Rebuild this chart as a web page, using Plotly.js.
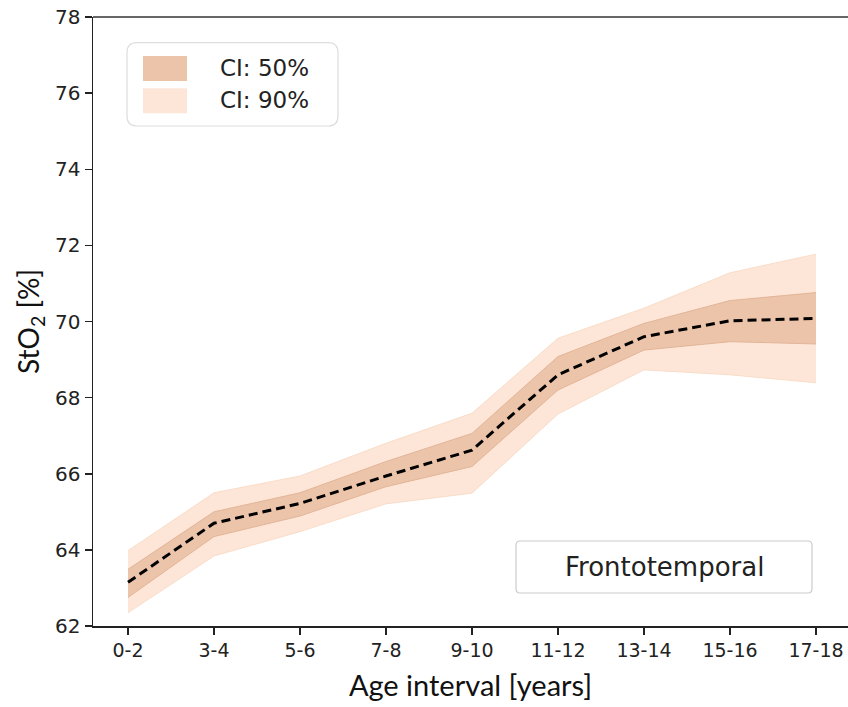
<!DOCTYPE html>
<html>
<head>
<meta charset="utf-8">
<script src="https://cdn.plot.ly/plotly-3.0.1.min.js"></script>
<style>
html,body{margin:0;padding:0;background:#fff;overflow:hidden;}
#chart{width:848px;height:707px;}
</style>
</head>
<body>
<div id="chart"></div>
<script>
const ageIntervals = ["0-2","3-4","5-6","7-8","9-10","11-12","13-14","15-16","17-18"];
const median  = [63.15, 64.70, 65.22, 65.94, 66.62, 68.60, 69.60, 70.02, 70.08];
const ci50Low = [62.75, 64.35, 64.89, 65.66, 66.19, 68.20, 69.25, 69.47, 69.41];
const ci50High= [63.49, 65.00, 65.50, 66.32, 67.06, 69.08, 69.95, 70.55, 70.76];
const ci90Low = [62.35, 63.84, 64.48, 65.21, 65.49, 67.57, 68.73, 68.60, 68.39];
const ci90High= [63.98, 65.50, 65.94, 66.80, 67.59, 69.56, 70.35, 71.28, 71.77];
const yTicks  = [62, 64, 66, 68, 70, 72, 74, 76, 78];

const c90 = '#fde6d7', c90edge = '#f9dcc8';
const c50 = '#ecc4aa', c50edge = '#e2b598';

const traces = [
  {x: ageIntervals, y: ci90Low, type:'scatter', mode:'lines', line:{color:c90edge, width:1}, hoverinfo:'skip', showlegend:false},
  {x: ageIntervals, y: ci90High, type:'scatter', mode:'lines', fill:'tonexty', fillcolor:c90, line:{color:c90edge, width:1}, name:'CI: 90%', showlegend:false},
  {x: ageIntervals, y: ci50Low, type:'scatter', mode:'lines', line:{color:c50edge, width:1}, hoverinfo:'skip', showlegend:false},
  {x: ageIntervals, y: ci50High, type:'scatter', mode:'lines', fill:'tonexty', fillcolor:c50, line:{color:c50edge, width:1}, name:'CI: 50%', showlegend:false},
  {x: ageIntervals, y: median, type:'scatter', mode:'lines', line:{color:'#000', width:3, dash:'9px,5px'}, name:'Median', showlegend:false}
];

function rrect(x0,y0,x1,y1,rx,ry){
  return `M ${x0+rx},${y0} L ${x1-rx},${y0} Q ${x1},${y0} ${x1},${y0+ry} L ${x1},${y1-ry} Q ${x1},${y1} ${x1-rx},${y1} L ${x0+rx},${y1} Q ${x0},${y1} ${x0},${y1-ry} L ${x0},${y0+ry} Q ${x0},${y0} ${x0+rx},${y0} Z`;
}

const layout = {
  width: 848, height: 707,
  margin: {l:93, r:0, t:17, b:81},
  paper_bgcolor:'#fff', plot_bgcolor:'#fff',
  showlegend:false,
  xaxis: {
    type:'category', range:[-0.407, 8.372],
    showgrid:false, zeroline:false,
    showline:true, linecolor:'#222', linewidth:1.5,
    ticks:'outside', ticklen:7, tickwidth:1.5, tickcolor:'#222',
    tickfont:{family:'DejaVu Sans, sans-serif', size:19, color:'#222'},
    title:{text:'Age interval [years]', font:{family:'Lato, sans-serif', size:29, color:'#111'}, standoff:15}
  },
  yaxis: {
    range:[62,78], tickvals:yTicks, ticktext:yTicks.map(String),
    showgrid:false, zeroline:false,
    showline:true, linecolor:'#222', linewidth:1.5,
    ticks:'outside', ticklen:7, tickwidth:1.5, tickcolor:'#222',
    tickfont:{family:'DejaVu Sans, sans-serif', size:20, color:'#222'},
    title:{text:'StO<sub>2</sub> [%]', font:{family:'Lato, sans-serif', size:28, color:'#111'}, standoff:7}
  },
  shapes: [
    {type:'line', xref:'paper', yref:'paper', x0:0, x1:1, y0:1, y1:1, line:{color:'#333', width:1.5}},
    {type:'path', xref:'paper', yref:'paper', path: rrect(0.045,0.821,0.3245,0.958,0.0132,0.0164), fillcolor:'rgba(255,255,255,0.9)', line:{color:'#dddddd', width:1.2}},
    {type:'rect', xref:'paper', yref:'paper', x0:0.0662, x1:0.1245, y0:0.895, y1:0.936, fillcolor:c50, line:{width:0}},
    {type:'rect', xref:'paper', yref:'paper', x0:0.0662, x1:0.1245, y0:0.842, y1:0.883, fillcolor:c90, line:{width:0}},
    {type:'path', xref:'paper', yref:'paper', path: rrect(0.5603,0.0542,0.9523,0.1396,0.0053,0.0066), fillcolor:'#fff', line:{color:'#cccccc', width:1.2}}
  ],
  annotations: [
    {xref:'paper', yref:'paper', x:0.1656, y:0.916, xanchor:'left', yanchor:'middle', showarrow:false, text:'CI: 50%', font:{family:'DejaVu Sans, sans-serif', size:23, color:'#222'}},
    {xref:'paper', yref:'paper', x:0.1656, y:0.864, xanchor:'left', yanchor:'middle', showarrow:false, text:'CI: 90%', font:{family:'DejaVu Sans, sans-serif', size:23, color:'#222'}},
    {xref:'paper', yref:'paper', x:0.7563, y:0.0969, xanchor:'center', yanchor:'middle', showarrow:false, text:'Frontotemporal', font:{family:'DejaVu Sans, sans-serif', size:26, color:'#222'}}
  ]
};

Plotly.newPlot('chart', traces, layout, {displayModeBar:false, staticPlot:true});
</script>
</body>
</html>
